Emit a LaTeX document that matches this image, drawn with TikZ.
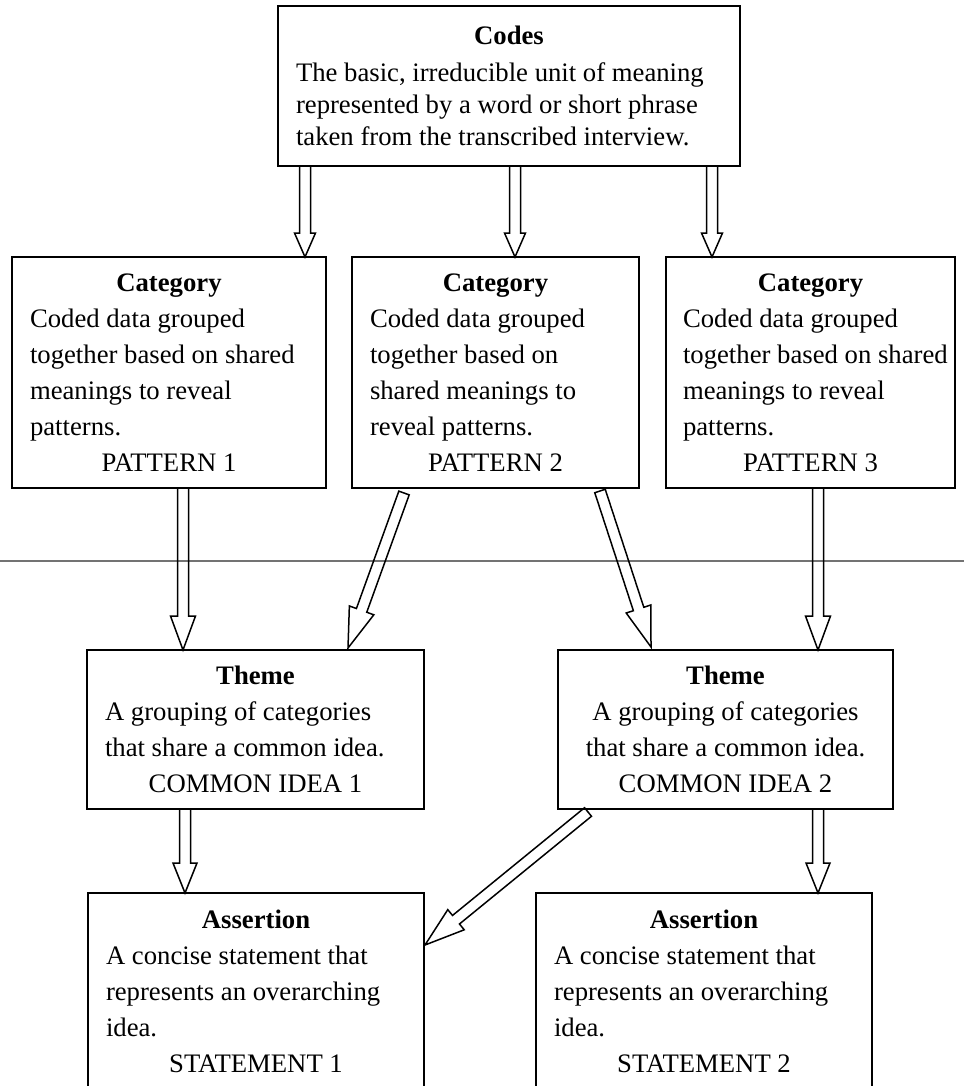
\documentclass[tikz,border=0pt]{standalone}
\usepackage{fontspec}
\setmainfont{Liberation Serif}
\usetikzlibrary{calc, positioning}

\newlength{\bodywd}
\newcommand{\txtline}[1]{\makebox[\bodywd][l]{#1}}

\begin{document}
\begin{tikzpicture}[
  x=1pt, y=-1pt,
  % --- styles ------------------------------------------------------------
  box/.style={
    rectangle, draw, line width=1.8pt, inner sep=0pt, outer sep=0pt, align=center,
    font=\fontsize{26.7}{36}\selectfont
  },
  body/.code={\setlength{\bodywd}{#1}},
  head len/.store in=\hdlen, head wid/.store in=\hdwid, shaft wid/.store in=\shwid,
  head len=34pt, head wid=12.5pt, shaft wid=5.5pt,
  hollow/.style={draw, line width=1.5pt, to path={
      coordinate (tA) (\tikztotarget) coordinate (tB)
      ($(tB)!\hdlen!(tA)$) coordinate (tC)
      ($(tA)!\shwid!90:(tB)$) -- ($(tC)!\shwid!90:(tB)$) -- ($(tC)!\hdwid!90:(tB)$) -- (tB)
      -- ($(tC)!\hdwid!-90:(tB)$) -- ($(tC)!\shwid!-90:(tB)$) -- ($(tA)!\shwid!-90:(tB)$) -- cycle}},
  divider/.style={draw=black!55, line width=1.6pt}
]
\useasboundingbox (0,0) rectangle (964,1086);
\clip (0,0) rectangle (964,1086);

% --------------------- top box -------------------------------------------
\node[box, minimum width=462pt, minimum height=160pt, body=426pt,
      font=\fontsize{26.7}{32}\selectfont] (codes) at (509,86)
  {\textbf{Codes}\\[5pt]
   \txtline{The basic, irreducible unit of meaning}\\
   \txtline{represented by a word or short phrase}\\
   \txtline{taken from the transcribed interview.}};

% --------------------- categories ----------------------------------------
\node[box, minimum width=314pt, minimum height=231pt, body=278pt] (cat1) at (169,372.5)
  {\textbf{Category}\\ \txtline{Coded data grouped}\\ \txtline{together based on shared}\\
   \txtline{meanings to reveal}\\ \txtline{patterns.}\\ PATTERN 1};
\node[box, minimum width=287pt, minimum height=231pt, body=251pt, right=26pt of cat1] (cat2)
  {\textbf{Category}\\ \txtline{Coded data grouped}\\ \txtline{together based on}\\
   \txtline{shared meanings to}\\ \txtline{reveal patterns.}\\ PATTERN 2};
\node[box, minimum width=289pt, minimum height=231pt, body=255pt, right=27pt of cat2] (cat3)
  {\textbf{Category}\\ \txtline{Coded data grouped}\\ \txtline{together based on shared}\\
   \txtline{meanings to reveal}\\ \txtline{patterns.}\\ PATTERN 3};

% --------------------- themes --------------------------------------------
\node[box, minimum width=337pt, minimum height=159pt, body=301pt] (theme1) at (255.5,729.5)
  {\textbf{Theme}\\ \txtline{A grouping of categories}\\ \txtline{that share a common idea.}\\
   COMMON IDEA 1};
\node[box, minimum width=335pt, minimum height=159pt, right=134pt of theme1] (theme2)
  {\textbf{Theme}\\ A grouping of categories\\ that share a common idea.\\
   COMMON IDEA 2}; % this one is centred in the original

% --------------------- assertions ----------------------------------------
\node[box, minimum width=336pt, minimum height=197pt, body=300pt] (assert1) at (256,991.5)
  {\textbf{Assertion}\\ \txtline{A concise statement that}\\ \txtline{represents an overarching}\\
   \txtline{idea.}\\ STATEMENT 1};
\node[box, minimum width=336pt, minimum height=197pt, body=300pt, right=112pt of assert1] (assert2)
  {\textbf{Assertion}\\ \txtline{A concise statement that}\\ \txtline{represents an overarching}\\
   \txtline{idea.}\\ STATEMENT 2};

% --------------------- divider line --------------------------------------
\draw[divider] (0,561) -- (964,561);

% --------------------- arrows: codes -> categories -----------------------
\draw[hollow, head len=24pt, head wid=10.5pt] ($(codes.south west)+(27,0)$) to ($(cat1.north east)+(-21,0)$);
\draw[hollow, head len=24pt, head wid=10.5pt] ($(codes.south)+(6,0)$) to ($(cat2.north)+(19.5,0)$);
\draw[hollow, head len=24pt, head wid=10.5pt] ($(codes.south east)+(-28,0)$) to ($(cat3.north west)+(46,0)$);

% --------------------- arrows: categories -> themes ----------------------
\draw[hollow] ($(cat1.south)+(14,0)$) to ($(theme1.north west)+(96,0)$);
\draw[hollow, head len=40pt, head wid=13pt] ($(cat2.south west)+(52,5)$) to ($(theme1.north east)+(-76,-2)$);
\draw[hollow, head len=40pt, head wid=13pt] ($(cat2.south east)+(-39,3)$) to ($(theme2.north west)+(93,-3)$);
\draw[hollow] ($(cat3.south)+(7.5,0)$) to ($(theme2.north east)+(-75,0)$);

% --------------------- arrows: themes -> assertions ----------------------
\draw[hollow, head len=30pt, head wid=12pt] ($(theme1.south)+(-70.5,0)$) to ($(assert1.north west)+(97,0)$);
\draw[hollow, head len=40pt, head wid=13pt] ($(theme2.south west)+(30,3)$) to ($(assert1.north east)+(1,52)$); % crosses over to the left
\draw[hollow, head len=30pt, head wid=12pt] ($(theme2.south east)+(-75,0)$) to ($(assert2.north east)+(-54,0)$);

\end{tikzpicture}
\end{document}
